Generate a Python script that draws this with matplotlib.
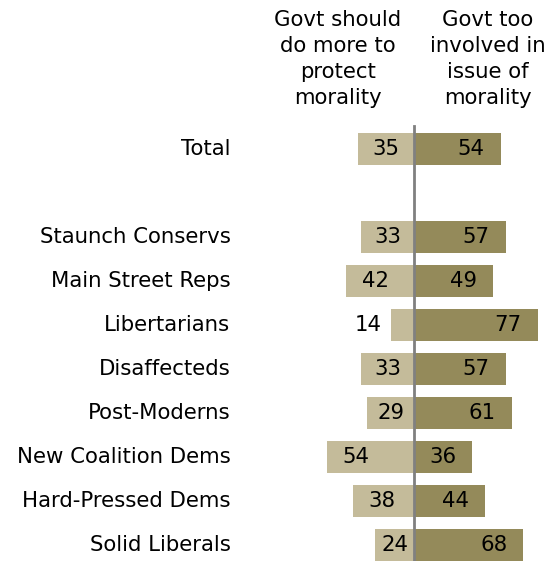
import matplotlib
matplotlib.use("Agg")
import matplotlib.pyplot as plt

# data
groups = ["Total", "Staunch Conservs", "Main Street Reps", "Libertarians",
          "Disaffecteds", "Post-Moderns", "New Coalition Dems",
          "Hard-Pressed Dems", "Solid Liberals"]
rows = [0, 2, 3, 4, 5, 6, 7, 8, 9]
more_protect = [35, 33, 42, 14, 33, 29, 54, 38, 24]
too_involved = [54, 57, 49, 77, 57, 61, 36, 44, 68]
headers = ["Govt should\ndo more to\nprotect\nmorality",
           "Govt too\ninvolved in\nissue of\nmorality"]

light = "#c4bb9a"
dark = "#948a5a"

W, H = 557, 561
px = 1.61     # pixels per percentage point
x0 = 414      # pixel position of the zero line
rowpx = 44    # pixels per row
y0 = 149      # pixel position of first row

fig = plt.figure(figsize=(W / 100, H / 100), dpi=100)
ax = fig.add_axes([0, 0, 1, 1])
ax.set_xlim(-x0 / px, (W - x0) / px)
ax.set_ylim((H - y0) / rowpx, -y0 / rowpx)
ax.axis("off")

fs = 15.3
ax.barh(rows, [-v for v in more_protect], height=0.71, color=light, zorder=2)
ax.barh(rows, too_involved, height=0.71, color=dark, zorder=2)
ax.plot([0, 0], [-0.53, (H - y0) / rowpx], color="#808080", lw=2, zorder=3)

for r, g, a, b in zip(rows, groups, more_protect, too_involved):
    ax.text(-114, r, g, ha="right", va="center", fontsize=fs)
    if a < 20:
        ax.text(-a - 6, r, str(a), ha="right", va="center", fontsize=fs)
    else:
        ax.text(-a + min(a / 2, 18), r, str(a), ha="center", va="center", fontsize=fs)
    ax.text(b - min(b / 2, 18.5), r, str(b), ha="center", va="center", fontsize=fs)

fig.text(338 / W, 1 - 10 / H, headers[0], ha="center", va="top",
         fontsize=fs, linespacing=1.37)
fig.text(488 / W, 1 - 10 / H, headers[1], ha="center", va="top",
         fontsize=fs, linespacing=1.37)

fig.savefig("out.png", dpi=100)
